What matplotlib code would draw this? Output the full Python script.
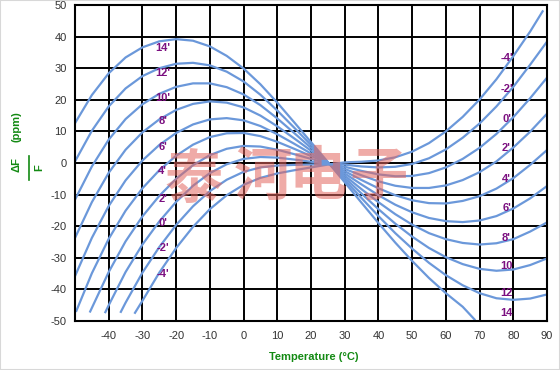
import matplotlib.pyplot as plt
from matplotlib.patches import Rectangle

plt.rcParams.update({
    "font.family": ["Liberation Sans", "DejaVu Sans"],
    "axes.unicode_minus": False,
})

# frequency deviation (ppm) vs temperature (degC), one curve per cut-angle offset
curve_14_t = [-50, -45, -40, -35, -30, -25, -20, -15, -10, -5, 0, 5, 10, 15, 20, 25, 30, 35, 40, 45, 50, 55, 60, 65, 68.5]
curve_14_v = [12.6, 21.5, 28.4, 33.4, 36.6, 38.5, 39.2, 38.7, 36.9, 33.9, 29.9, 24.9, 19.1, 12.9, 6.6, 0.3,
              -6.1, -12.6, -19.0, -25.2, -31.0, -36.4, -41.2, -45.5, -49.5]

full_t = [-50, -45, -40, -35, -30, -25, -20, -15, -10, -5, 0, 5, 10, 15, 20, 25,
          30, 35, 40, 45, 50, 55, 60, 65, 70, 75, 80, 85, 90]
curve_12_v = [0.5, 10.2, 17.9, 23.6, 27.5, 30.0, 31.4, 31.7, 30.9, 28.9, 25.8, 21.6, 16.6, 11.2, 5.7, 0.2,
              -5.4, -11.1, -16.8, -22.2, -27.1, -31.6, -35.5, -38.7, -41.2, -42.8, -43.3, -42.9, -41.6]
curve_10_v = [-11.6, -1.1, 7.4, 13.9, 18.6, 21.9, 24.1, 25.2, 25.2, 24.0, 21.7, 18.3, 14.1, 9.5, 4.8, 0.1,
              -4.7, -9.7, -14.6, -19.2, -23.3, -26.9, -29.8, -32.0, -33.5, -34.1, -33.7, -32.3, -30.2]
curve_8_v = [-23.7, -12.4, -3.1, 4.2, 9.7, 13.8, 16.8, 18.7, 19.5, 19.1, 17.6, 15.0, 11.6, 7.8, 3.9, 0.0,
             -4.0, -8.3, -12.4, -16.2, -19.5, -22.2, -24.1, -25.3, -25.8, -25.4, -24.1, -21.7, -18.8]
curve_6_v = [-35.8, -23.7, -13.6, -5.5, 0.8, 5.7, 9.5, 12.2, 13.8, 14.2, 13.5, 11.7, 9.1, 6.1, 3.0, -0.1,
             -3.3, -6.8, -10.2, -13.2, -15.6, -17.4, -18.4, -18.7, -18.2, -16.8, -14.4, -11.2, -7.3]

curve_4_t = [-49.6] + full_t[1:]
curve_4_v = [-46.8, -34.9, -24.0, -15.1, -8.0, -2.3, 2.3, 5.8, 8.2, 9.4, 9.5, 8.5, 6.7, 4.5, 2.2, -0.1,
             -2.6, -5.4, -8.0, -10.2, -11.8, -12.7, -12.8, -12.0, -10.5, -8.1, -4.8, -0.6, 4.1]

curve_2_t = [-45.5] + full_t[2:]
curve_2_v = [-47.0, -34.5, -24.8, -16.9, -10.4, -5.0, -0.7, 2.5, 4.5, 5.4, 5.2, 4.2, 2.8, 1.3, -0.2,
             -1.9, -3.9, -5.8, -7.2, -7.9, -7.9, -7.1, -5.4, -2.9, 0.5, 4.9, 9.9, 15.6]

curve_0_t = [-41] + full_t[2:]
curve_0_v = [-47.2, -45.0, -34.5, -25.8, -18.5, -12.3, -7.2, -3.2, -0.4, 1.3, 1.9, 1.7, 1.1, 0.4, -0.3,
             -1.2, -2.5, -3.6, -4.2, -4.1, -3.2, -1.4, 1.3, 4.8, 9.2, 14.5, 20.5, 27.0]

curve_m2_t = [-36.4] + full_t[3:]
curve_m2_v = [-47.1, -44.2, -34.7, -26.6, -19.6, -13.7, -8.9, -5.3, -2.8, -1.4, -0.8, -0.6, -0.5, -0.4,
              -0.5, -1.1, -1.4, -1.2, -0.3, 1.5, 4.3, 8.0, 12.5, 17.9, 24.1, 31.1, 38.4]

curve_m4_t = [-32.2] + full_t[4:-1] + [88.7]
curve_m4_v = [-47.4, -43.6, -34.7, -26.9, -20.2, -14.6, -10.2, -6.9, -4.7, -3.3, -2.3, -1.4, -0.5,
              0.2, 0.4, 0.8, 1.8, 3.6, 6.3, 10.0, 14.6, 20.1, 26.5, 33.8, 41.6, 48.0]

curves = [
    (curve_14_t, curve_14_v), (full_t, curve_12_v), (full_t, curve_10_v), (full_t, curve_8_v),
    (full_t, curve_6_v), (curve_4_t, curve_4_v), (curve_2_t, curve_2_v), (curve_0_t, curve_0_v),
    (curve_m2_t, curve_m2_v), (curve_m4_t, curve_m4_v),
]

left_labels = ["14'", "12'", "10'", "8'", "6'", "4'", "2'", "0'", "-2'", "-4'"]
left_label_y = [36.5, 28.6, 20.7, 13.3, 5.1, -2.5, -11.5, -18.9, -26.8, -35.2]
right_labels = ["-4'", "-2'", "0'", "2'", "4'", "6'", "8'", "10", "12", "14"]
right_label_y = [33.3, 23.3, 13.8, 4.8, -5.2, -14.1, -23.6, -32.6, -41.0, -47.4]

x_ticks = list(range(-50, 91, 10))
y_ticks = list(range(-50, 51, 10))

W, H = 560, 370
fig = plt.figure(figsize=(W / 100, H / 100), dpi=100)
ax = fig.add_axes([75 / W, 49 / H, 472 / W, 316 / H])
ax.set_xlim(-50, 90)
ax.set_ylim(-50, 50)

ax.set_xticks(x_ticks)
ax.set_xticklabels(["" if t == -50 else str(t) for t in x_ticks])
ax.set_yticks(y_ticks)
ax.set_yticklabels([str(t) for t in y_ticks])
ax.tick_params(length=0, labelsize=8, labelcolor="#333333")
ax.tick_params(axis="x", pad=7)
ax.tick_params(axis="y", pad=6)
ax.grid(color="black", linewidth=1.4, zorder=0)
ax.set_axisbelow(True)
for s in ax.spines.values():
    s.set_linewidth(1.5)
    s.set_color("black")

line_color = "#6b98da"
for t, v in curves:
    ax.plot(t, v, color=line_color, linewidth=1.6, solid_joinstyle="round", zorder=2)

for txt, y in zip(left_labels, left_label_y):
    ax.text(-24, y, txt, color="#7b0f80", fontsize=8, fontweight="bold",
            ha="center", va="center", zorder=4)
for txt, y in zip(right_labels, right_label_y):
    ax.text(78, y, txt, color="#7b0f80", fontsize=8, fontweight="bold",
            ha="center", va="center", zorder=4)

# watermark (sits over the labels, as in the source image)
wm_chars = ["泰", "河", "电", "子"]
wm_px = [(194, 181), (263, 178), (318, 177), (379, 178)]
for ch, (px, py) in zip(wm_chars, wm_px):
    fig.text(px / W, 1 - py / H, ch, family=["Noto Sans CJK SC", "DejaVu Sans"],
             fontsize=42, fontweight="bold", color="#e2665f", alpha=0.55,
             ha="center", va="center", zorder=5)

green = "#138a13"
fig.text(314 / W, 1 - 357 / H, "Temperature (°C)", color=green, fontsize=8,
         fontweight="bold", ha="center", va="center")

# y label: dF/F (ppm), rotated
fig.text(17 / W, 1 - 127 / H, "(ppm)", color=green, fontsize=8, fontweight="bold",
         rotation=90, ha="center", va="center")
fig.text(17 / W, 1 - 165 / H, "ΔF", color=green, fontsize=8, fontweight="bold",
         rotation=90, ha="center", va="center")
fig.text(39 / W, 1 - 168 / H, "F", color=green, fontsize=8, fontweight="bold",
         rotation=90, ha="center", va="center")
fig.lines.append(plt.Line2D([29 / W, 29 / W], [1 - 156 / H, 1 - 180 / H],
                            transform=fig.transFigure, color=green, linewidth=1.2))

fig.patches.append(Rectangle((0, 0), 1, 1, transform=fig.transFigure, fill=False,
                             edgecolor="#d8d8d8", linewidth=1.5))

fig.savefig("out.png", dpi=100, facecolor="white")
plt.close(fig)
